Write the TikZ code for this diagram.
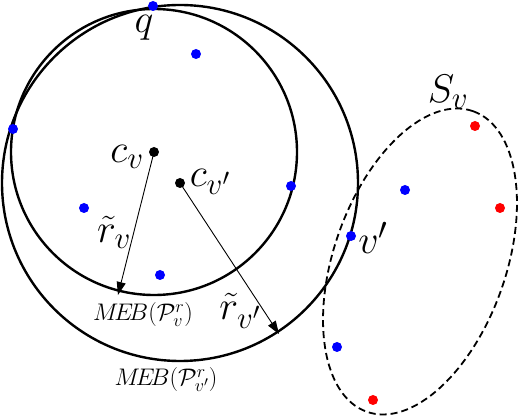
\RequirePackage{fix-cm}
\documentclass[tikz,border=0pt]{standalone}
\usetikzlibrary{arrows.meta}
\DeclareMathSizes{40}{40}{31}{24}
\DeclareMathSizes{24}{24}{18}{14}
\begin{document}
\begin{tikzpicture}[x=1pt,y=-1pt,
  ball/.style={line width=2.4pt},
  bdot/.style={fill=blue,draw=none},
  rdot/.style={fill=red,draw=none},
  kdot/.style={fill=black,draw=none},
  rad/.style={line width=0.9pt,-{Triangle[length=13pt,width=9pt]}},
  big/.style={font=\fontsize{40}{44}\selectfont,inner sep=0pt},
  small/.style={font=\fontsize{24}{28}\selectfont,inner sep=0pt}]
\useasboundingbox (0,0) rectangle (520,419);
% centres
\coordinate (cv) at (154,152);
\coordinate (cw) at (180,183);
% balls
\draw[ball] (cv) circle[radius=143];
\draw[ball] (cw) circle[radius=178];
% set S_v
\draw[line width=1.8pt,dash pattern=on 7pt off 4pt] (420,261.5) ellipse[x radius=159.4, y radius=86, rotate=70.5];
% radii
\coordinate (tv) at (118,295);
\coordinate (tw) at (279,334);
\draw[rad] (cv) -- (tv);
\draw[rad] (cw) -- (tw);
% centre dots
\fill[kdot] (cv) circle[radius=5];
\fill[kdot] (cw) circle[radius=5];
% blue points
\foreach \p/\n in {{(153,6)}/q,{(196,54)}/b1,{(13,129)}/b2,{(291,186)}/b3,{(84,208)}/b4,{(160,275)}/b5,{(405,190)}/b6,{(351,236)}/vp,{(337,347)}/b7}
  \fill[bdot] \p circle[radius=5] coordinate (\n);
% red points
\foreach \p/\n in {{(475,126)}/r1,{(500,208)}/r2,{(373,400)}/r3}
  \fill[rdot] \p circle[radius=5] coordinate (\n);
% labels
\node[big] (lq) at (144,28) {$q$};
\node[big] (lcv) at (127,157) {$c_v$};
\node[big] (lcw) at (210,182) {$c_{v'}$};
\node[big] (lrv) at (114,232) {$\tilde{r}_v$};
\node[big] (lrw) at (240,311) {$\tilde{r}_{v'}$};
\node[big] (lvp) at (373,238) {$v'$};
\node[big] (lsv) at (448,92) {$S_v$};
\node[small] (mv) at (143,315) {$M\!E\!B(\mathcal{P}_v^r)$};
\node[small] (mw) at (166,380) {$M\!E\!B(\mathcal{P}_{v'}^r)$};
\end{tikzpicture}
\end{document}
